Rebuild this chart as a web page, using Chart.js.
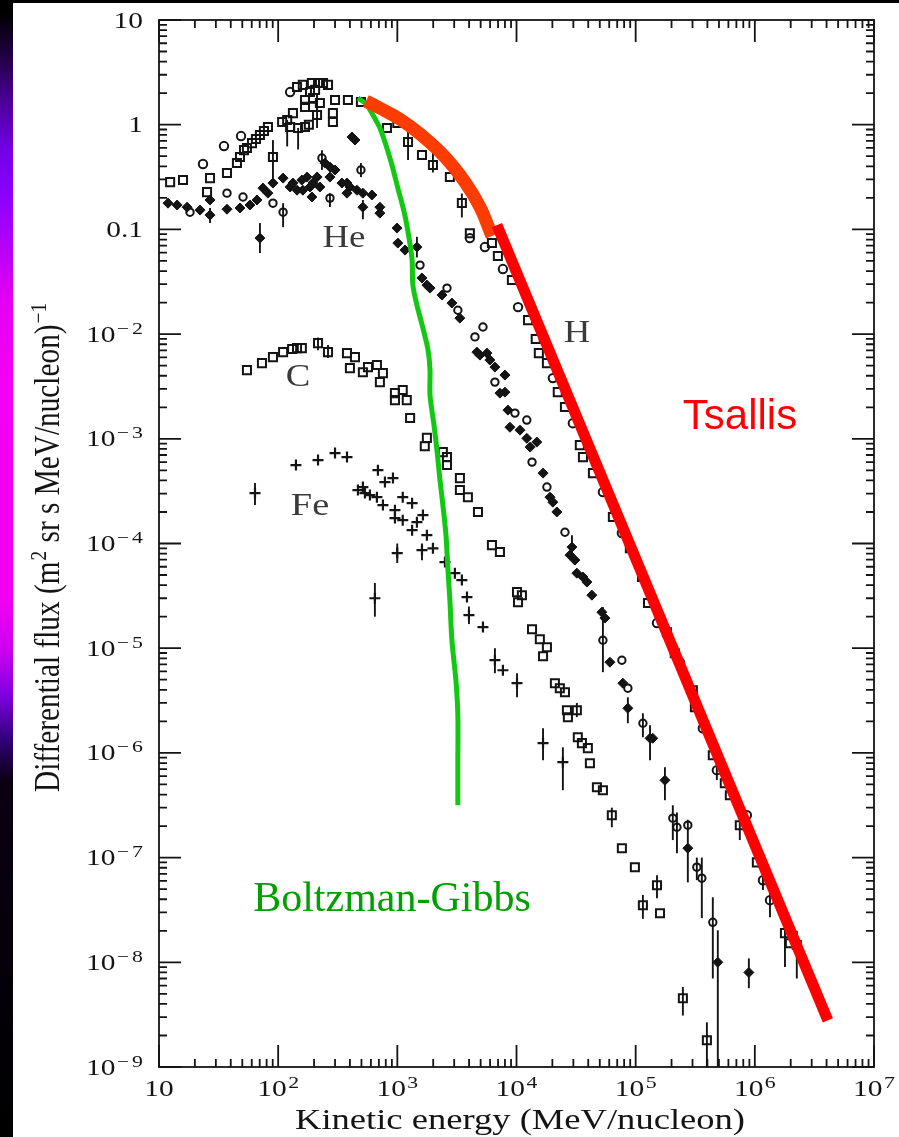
<!DOCTYPE html>
<html>
<head>
<meta charset="utf-8">
<script src="https://cdn.jsdelivr.net/npm/chart.js@4.4.0/dist/chart.umd.min.js"></script>
<style>
  html, body { margin: 0; padding: 0; background: #fff; overflow: hidden; scrollbar-width: none; }
  ::-webkit-scrollbar { display: none; width: 0; height: 0; }
  #wrap { position: relative; width: 899px; height: 1137px; overflow: hidden; background: #fff; }
  #edge { position: absolute; left: 0; top: 0; width: 13px; height: 1137px;
    background: linear-gradient(to bottom, #000 0px, #000 12px, #200040 55px, #4a0095 100px, #7400e6 150px,
      #8e00ff 200px, #b800f8 250px, #e400f2 300px, #f400f4 380px, #f200f2 600px, #cc00f0 650px,
      #8000e0 695px, #30007a 740px, #0a0012 780px, #000 1137px); }
  #topband { position: absolute; left: 0; top: 0; width: 899px; height: 3px; background: #000; }
  canvas { position: absolute; left: 0; top: 0; }
</style>
</head>
<body>
<div id="wrap">
  <div id="edge"></div>
  <div id="topband"></div>
  <canvas id="c" width="899" height="1137"></canvas>
</div>
<script>
// ---- Axis ticks -------------------------------------------------------
const xTickValues = [10, 1e2, 1e3, 1e4, 1e5, 1e6, 1e7];
const xTickLabels = [['10', ''], ['10', '2'], ['10', '3'], ['10', '4'], ['10', '5'], ['10', '6'], ['10', '7']];
const yTickValues = [10, 1, 0.1, 1e-2, 1e-3, 1e-4, 1e-5, 1e-6, 1e-7, 1e-8, 1e-9];
const yTickLabels = [['10', ''], ['1', ''], ['0.1', ''], ['10', '−2'], ['10', '−3'], ['10', '−4'],
  ['10', '−5'], ['10', '−6'], ['10', '−7'], ['10', '−8'], ['10', '−9']];
const minorSteps = [2, 3, 4, 5, 6, 7, 8, 9];

// ---- Measured spectra: [kinetic energy (MeV/nucleon), flux] -----------
const hSquares = [[12.4,0.283],[15.9,0.296],[25.3,0.227],[26.8,0.309],[37.2,0.345],[45.1,0.43],[47.8,0.491],
  [51.7,0.572],[54.7,0.598],[60.3,0.667],[65.1,0.729],[70.3,0.796],[76,0.869],[82.1,0.949],[90.4,0.491],
  [108,1.06],[119,1.11],[126,0.95],[133,1.29],[147,0.93],[168,0.95],[181,1.0],[144,2.29],[161,2.40],
  [192,2.50],[216,2.50],[238,2.50],[262,2.40],[168,1.72],[196,1.80],[224,1.61],[185,2.05],[204,2.15],
  [168,1.48],[196,1.48],[212,1.24],[288,1.29],[288,1.06],[300,1.72],[385,1.72],[495,1.65],[818,0.93],
  [1000,1.04],[1230,0.684],[1610,0.514],[1990,0.412],[2760,0.316],[3480,0.179],[4060,0.092],[6220,0.074],
  [6980,0.0556],[9150,0.0328],[1.25e4,0.0136],[1.45e4,0.00896],[1.54e4,0.00658],[1.8e4,0.00528],
  [2.22e4,0.00279],[2.55e4,0.00201],[3.4e4,8.7e-4],[3.61e4,6.68e-4],[4.38e4,4.7e-4],[6.44e4,1.79e-4],
  [8.94e4,9.0e-5],[1.13e5,4.78e-5],[1.27e5,2.7e-5],[1.83e5,1.42e-5],[2.13e5,8.96e-6],[3.02e5,3.97e-6],
  [3.14e5,2.73e-6],[4.44e5,9.5e-7],[5.6e5,5.14e-7],[6.17e5,3.94e-7],[7.48e5,2.04e-7],[1.04e6,9.0e-8],
  [1.79e6,1.9e-8],[1.97e6,1.52e-8],[2.25e6,1.46e-8]];
const hCircles = [[23.4,0.421],[35.1,0.625],[48.8,0.779],[126,2.05],[4060,0.0826],[5430,0.0678],[7690,0.0418],
  [1.03e4,0.0181],[2.02e4,0.0038],[2.97e4,0.00141],[5.31e4,3.1e-4],[7.66e4,1.26e-4],[1.51e5,1.74e-5],
  [2.35e5,7.35e-6],[3.66e5,1.72e-6],[4.8e5,6.84e-7],[8.57e5,2.54e-7],[1.17e6,6.08e-8],[1.34e6,3.92e-8]];
const hErrors = [[90.4,0.265,0.713],[119,0.62,1.11],[147,0.58,0.93],[212,0.93,1.5],[1230,0.46,1.0],
  [1990,0.35,0.55],[3480,0.13,0.22],[4.8e5,5.5e-7,8.5e-7],[7.48e5,1.47e-7,2.84e-7],[1.17e6,4.9e-8,9.5e-8],
  [1.34e6,2.7e-8,6e-8],[1.79e6,9e-9,2.3e-8],[2.25e6,7e-9,2.0e-8]];

const heFilled = [[11.9,0.178],[14.2,0.171],[17.2,0.163],[22.1,0.153],[26.8,0.137],[26.8,0.191],[37.2,0.156],
  [47.8,0.16],[58,0.171],[66.4,0.191],[74.5,0.248],[82.1,0.222],[70.3,0.0826],[90.4,0.277],[110,0.309],
  [126,0.254],[133,0.277],[144,0.237],[158,0.296],[161,0.237],[175,0.316],[185,0.254],[192,0.204],
  [196,0.277],[212,0.316],[224,0.254],[247,0.43],[272,0.394],[272,0.316],[300,0.369],[343,0.277],
  [378,0.277],[400,0.254],[378,0.222],[458,0.237],[514,0.222],[612,0.213],[514,0.163],[714,0.163],
  [714,0.143],[416,0.763],[441,0.714],
  [995,0.103],[1010,0.074],[1160,0.0634],[1460,0.0678],[1610,0.0343],[1770,0.0294],[1880,0.0275],
  [2370,0.0236],[2870,0.0198],[3350,0.0142],[4650,0.00673],[4930,0.0063],[5650,0.00658],[5980,0.00565],
  [6590,0.00484],[8000,0.00406],[7260,0.00273],[8000,0.00279],[8470,0.00188],[8810,0.00129],
  [1.07e4,0.00121],[1.22e4,0.00101],[1.48e4,9.3e-4],[1.3e4,8.33e-4],[1.67e4,4.7e-4],
  [1.91e4,2.77e-4],[2.02e4,2.48e-4],[2.18e4,2.0e-4],[2.92e4,9.24e-5],[2.81e4,7.75e-5],[3.09e4,6.94e-5],
  [3.21e4,5.21e-5],[3.61e4,4.78e-5],[3.9e4,4.28e-5],[4.29e4,3.21e-5],[5.2e4,2.21e-5],[5.52e4,1.94e-5],
  [6.08e4,7.35e-6],[7.81e4,4.63e-6],[8.6e4,2.67e-6],[1.32e5,1.38e-6],[1.39e5,1.38e-6],[1.76e5,5.48e-7],
  [2.74e5,1.23e-7],[4.89e5,1.0e-8],[8.91e5,8.0e-9]];
const heOpen = [[18.2,0.146],[37.2,0.222],[50.7,0.204],[90.4,0.178],[110,0.146],[233,0.48],[272,0.199],
  [495,0.369],[1550,0.0456],[2610,0.0275],[3220,0.0169],[5230,0.0117],[4480,0.0094],[6590,0.00348],
  [9700,0.00176],[1.22e4,0.00151],[1.35e4,5.99e-4],[1.8e4,3.46e-4],[2.55e4,1.28e-4],[5.31e4,1.19e-5],
  [7.66e4,7.68e-6],[8.6e4,4.15e-6],[1.15e5,1.92e-6],[2.05e5,2.38e-7],[2.22e5,1.95e-7],[2.74e5,2.04e-7],
  [3.26e5,8.1e-8],[3.59e5,6.36e-8],[4.44e5,2.41e-8]];
const heErrors = [[26.8,0.115,0.16],[70.3,0.0594,0.115],[110,0.105,0.178],[233,0.37,0.57],[272,0.164,0.222],
  [514,0.125,0.191],[495,0.316,0.43],[1460,0.054,0.085],[2.92e4,7.25e-5,1.2e-4],[5.31e4,5.9e-6,2.47e-5],
  [8.6e4,1.92e-6,3.4e-6],[1.15e5,1.41e-6,2.39e-6],[1.32e5,8.5e-7,1.84e-6],[1.76e5,3.53e-7,7.3e-7],
  [2.05e5,1.47e-7,3.16e-7],[2.22e5,1.1e-7,2.7e-7],[2.74e5,5.8e-8,2.3e-7],[3.26e5,6.1e-8,1.0e-7],
  [3.59e5,2.64e-8,1.0e-7],[4.44e5,7.0e-9,4.18e-8],[4.89e5,1.0e-9,2.02e-8],[8.91e5,5.65e-9,1.09e-8]];

const carbon = [[54.7,4.53e-3],[73.1,5.28e-3],[90.4,6.03e-3],[110,6.73e-3],[131,7.2e-3],[144,7.35e-3],
  [158,7.35e-3],[216,8.2e-3],[262,6.73e-3],[378,6.58e-3],[441,6.03e-3],[400,4.73e-3],[514,4.33e-3],
  [567,4.84e-3],[674,5.06e-3],[757,4.24e-3],[714,3.48e-3],[955,2.73e-3],[1110,2.92e-3],[955,2.34e-3],
  [1200,2.34e-3],[1280,1.58e-3],[1770,1.02e-3],[1700,8.5e-4],[2410,7.46e-4],[2610,6.68e-4],[2610,5.61e-4],
  [3350,4.21e-4],[3350,3.24e-4],[3910,2.77e-4],[4750,2.0e-4],[6220,9.65e-5],[7260,8.28e-5],[1.01e4,3.43e-5],
  [1.11e4,3.21e-5],[1.03e4,2.75e-5],[1.35e4,1.52e-5],[1.57e4,1.22e-5],[1.8e4,1.02e-5],[1.67e4,8.39e-6],
  [2.1e4,4.63e-6],[2.31e4,4.15e-6],[2.55e4,3.8e-6],[2.65e4,2.56e-6],[3.21e4,2.56e-6],[2.7e4,2.19e-6],
  [3.27e4,1.41e-6],[3.54e4,1.24e-6],[3.97e4,1.11e-6],[4.13e4,7.97e-7],[4.73e4,4.7e-7],[5.31e4,4.4e-7],
  [6.31e4,2.54e-7],[7.66e4,1.23e-7],[9.85e4,8.1e-8],[1.51e5,5.45e-8],[1.15e5,3.51e-8],[1.6e5,2.94e-8],
  [2.49e5,4.53e-9],[3.96e5,1.8e-9]];
const carbonErrors = [[216,7.0e-3,9.3e-3],[262,5.9e-3,7.85e-3],[3.21e4,2.2e-6,3.0e-6],[6.31e4,1.95e-7,3.0e-7],
  [1.51e5,4.1e-8,6.8e-8],[1.15e5,2.6e-8,4.4e-8],[2.49e5,3.1e-9,5.8e-9],[3.96e5,1.0e-9,2.67e-9]];

const iron = [[63.9,3.03e-4],[141,5.61e-4],[216,6.26e-4],[300,7.31e-4],[378,6.69e-4],[687,5.02e-4],
  [787,3.86e-4],[919,4.22e-4],[467,3.24e-4],[514,3.46e-4],[535,3.03e-4],[589,2.9e-4],[674,2.77e-4],
  [757,2.33e-4],[955,2.08e-4],[1110,2.77e-4],[1330,2.43e-4],[955,1.75e-4],[1110,1.67e-4],[1330,1.34e-4],
  [1460,1.6e-4],[1640,1.87e-4],[1770,1.2e-4],[998,8.1e-5],[1610,8.65e-5],[1990,9.0e-5],[2510,6.64e-5],
  [3040,5.21e-5],[3480,4.47e-5],[3840,3.08e-5],[3990,2.07e-5],[5230,1.59e-5],[6590,7.68e-6],[7690,6.16e-6],
  [1.01e4,4.63e-6],[648,3.0e-5],[1.67e4,1.24e-6],[2.45e4,8.15e-7]];
const ironErrors = [[63.9,2.33e-4,3.78e-4],[998,6.5e-5,1.0e-4],[1610,6.9e-5,1.0e-4],[3990,1.7e-5,2.5e-5],
  [6590,5.77e-6,1.0e-5],[1.01e4,3.4e-6,5.77e-6],[648,2.0e-5,4.2e-5],[1.67e4,8.5e-7,1.72e-6],
  [2.45e4,4.4e-7,1.13e-6]];

// ---- Fitted curves ------------------------------------------------------
const tsallisCurve = [[545,1.68],[714,1.44],[1050,1.13],[1550,0.815],[2510,0.491],[3690,0.284],[4930,0.164],[6220,0.0863]];
const tsallisPowerLaw = [[6850,0.110],[4.10e6,2.79e-9]];
const boltzmannGibbs = [[467,1.80],[545,1.58],[624,1.24],[714,0.93],[802,0.64],[901,0.412],[1010,0.248],
  [1140,0.147],[1250,0.0844],[1330,0.0509],[1350,0.0294],[1460,0.0189],[1640,0.0114],[1810,0.00703],
  [1880,0.00453],[1880,0.00261],[2030,0.00135],[2150,7.8e-4],[2280,4.03e-4],[2410,2.33e-4],[2560,1.2e-4],
  [2660,5.57e-5],[2760,2.88e-5],[2870,1.19e-5],[3100,4.95e-6],[3220,2.29e-6],[3220,8.5e-7],[3220,3.16e-7]];

const allErrors = [hErrors, heErrors, carbonErrors, ironErrors];

const toXY = arr => arr.map(([x, y]) => ({ x, y }));
const INK = '#141414';
const SERIF = '"Liberation Serif", "Times New Roman", serif';

function stretchedText(ctx, str, x, y, font, sx, align, color) {
  ctx.save();
  ctx.font = font;
  ctx.fillStyle = color || INK;
  const w = ctx.measureText(str).width * sx;
  const x0 = align === 'center' ? x - w / 2 : align === 'right' ? x - w : x;
  ctx.translate(x0, y);
  ctx.scale(sx, 1);
  ctx.textAlign = 'left';
  ctx.textBaseline = 'alphabetic';
  ctx.fillText(str, 0, 0);
  ctx.restore();
  return w;
}

// power-of-ten label: base text plus raised exponent
const LBL_SX = 1.28;
const LBL_BASE = '23px ' + SERIF;
const LBL_SUP = '17px ' + SERIF;
function supWidth(ctx, s) {
  if (!s) return 0;
  ctx.font = LBL_SUP;
  let w = 1.5;
  for (const ch of s) w += ctx.measureText(ch).width * LBL_SX + (ch === '−' ? 3 : 0);
  return w;
}
function powerLabel(ctx, parts, x, baseline, align) {
  const [b, s] = parts;
  ctx.font = LBL_BASE;
  const wb = ctx.measureText(b).width * LBL_SX;
  const ws = supWidth(ctx, s);
  const total = wb + ws;
  let x0 = align === 'center' ? x - total / 2 : align === 'right' ? x - total : x;
  stretchedText(ctx, b, x0, baseline, LBL_BASE, LBL_SX, 'left');
  let cx = x0 + wb + 1.5;
  for (const ch of s) {
    cx += stretchedText(ctx, ch, cx, baseline - 8, LBL_SUP, LBL_SX, 'left') + (ch === '−' ? 3 : 0);
  }
}

const framePlugin = {
  id: 'frame',
  beforeDatasetsDraw(chart) {
    const { ctx, chartArea: a, scales: { x, y } } = chart;
    ctx.save();
    ctx.beginPath();
    ctx.rect(a.left, a.top, a.right - a.left, a.bottom - a.top);
    ctx.clip();
    ctx.strokeStyle = INK;
    ctx.lineWidth = 1.9;
    for (const set of allErrors) {
      for (const [e, lo, hi] of set) {
        const px = x.getPixelForValue(e);
        ctx.beginPath();
        ctx.moveTo(px, y.getPixelForValue(lo));
        ctx.lineTo(px, y.getPixelForValue(hi));
        ctx.stroke();
      }
    }
    ctx.restore();
  },
  afterDraw(chart) {
    const { ctx, chartArea: a, scales: { x, y } } = chart;
    ctx.save();
    ctx.strokeStyle = INK;
    ctx.lineWidth = 1.8;
    ctx.strokeRect(a.left, a.top, a.right - a.left, a.bottom - a.top);
    const MAJOR = 22, MINOR = 8;
    ctx.beginPath();
    // energy axis ticks (bottom and top, pointing inward)
    xTickValues.forEach((dec, i) => {
      const px = x.getPixelForValue(dec);
      ctx.moveTo(px, a.bottom); ctx.lineTo(px, a.bottom - MAJOR);
      ctx.moveTo(px, a.top); ctx.lineTo(px, a.top + MAJOR);
      if (i < xTickValues.length - 1) {
        minorSteps.forEach(m => {
          const q = x.getPixelForValue(dec * m);
          ctx.moveTo(q, a.bottom); ctx.lineTo(q, a.bottom - MINOR);
          ctx.moveTo(q, a.top); ctx.lineTo(q, a.top + MINOR);
        });
      }
    });
    // flux axis ticks (left and right, pointing inward)
    yTickValues.forEach((dec, i) => {
      const py = y.getPixelForValue(dec);
      ctx.moveTo(a.left, py); ctx.lineTo(a.left + MAJOR, py);
      ctx.moveTo(a.right, py); ctx.lineTo(a.right - MAJOR, py);
      if (i > 0) {
        minorSteps.forEach(m => {
          const q = y.getPixelForValue(dec * m);
          ctx.moveTo(a.left, q); ctx.lineTo(a.left + MINOR, q);
          ctx.moveTo(a.right, q); ctx.lineTo(a.right - MINOR, q);
        });
      }
    });
    ctx.stroke();

    // tick labels
    xTickValues.forEach((v, i) => powerLabel(ctx, xTickLabels[i], x.getPixelForValue(v), a.bottom + 29, 'center'));
    yTickValues.forEach((v, i) => powerLabel(ctx, yTickLabels[i], a.left - 16, y.getPixelForValue(v) + 7.5, 'right'));

    // energy axis title
    const xTitle = 'Kinetic energy (MeV/nucleon)';
    ctx.font = '29px ' + SERIF;
    const xsx = 450 / ctx.measureText(xTitle).width;
    stretchedText(ctx, xTitle, 520, a.bottom + 62, '29px ' + SERIF, xsx, 'center');

    // flux axis title, rotated and reading upward
    const segs = [['Differential flux (m', false], ['2', true], [' sr s MeV/nucleon)', false], ['−1', true]];
    const widthOf = (t, sup) => { ctx.font = (sup ? '19px ' : '29px ') + SERIF; return ctx.measureText(t).width; };
    let natural = 0;
    segs.forEach(([t, s]) => { natural += widthOf(t, s) + (s ? 2 : 0); });
    const lenScale = 490 / natural;
    ctx.save();
    ctx.translate(59, 792);
    ctx.rotate(-Math.PI / 2);
    ctx.scale(lenScale, 1.22);
    ctx.fillStyle = INK;
    ctx.textBaseline = 'alphabetic';
    let cx = 0;
    segs.forEach(([t, s]) => {
      ctx.font = (s ? '19px ' : '29px ') + SERIF;
      if (s) cx += 1;
      ctx.fillText(t, cx, s ? -11 : 0);
      cx += ctx.measureText(t).width + (s ? 1 : 0);
    });
    ctx.restore();

    // species labels
    const spFont = '32px ' + SERIF;
    stretchedText(ctx, 'He', 344, 247, spFont, 1.15, 'center', '#3a3a3a');
    stretchedText(ctx, 'H', 577, 342, spFont, 1.15, 'center', '#3a3a3a');
    stretchedText(ctx, 'C', 298, 386, spFont, 1.15, 'center', '#3a3a3a');
    stretchedText(ctx, 'Fe', 310, 515, spFont, 1.2, 'center', '#3a3a3a');

    // model labels
    stretchedText(ctx, 'Tsallis', 740, 429, '42px "Liberation Sans", Arial, sans-serif', 1, 'center', '#ff0000');
    stretchedText(ctx, 'Boltzman-Gibbs', 392, 911, '42px ' + SERIF, 1, 'center', '#00a000');
    ctx.restore();
  }
};

const markerBase = { showLine: false, order: 1, borderColor: INK, pointHoverRadius: 0 };

new Chart(document.getElementById('c'), {
  type: 'scatter',
  data: {
    datasets: [
      { label: 'Tsallis', data: toXY(tsallisPowerLaw), showLine: true, order: 0, borderColor: '#ff0000',
        borderWidth: 11, pointRadius: 0, borderCapStyle: 'butt' },
      { label: 'Tsallis', data: toXY(tsallisCurve), showLine: true, order: 0, borderColor: '#ff3c00',
        borderWidth: 13, pointRadius: 0, tension: 0.4, borderCapStyle: 'butt', borderJoinStyle: 'round' },
      { label: 'Boltzman-Gibbs', data: toXY(boltzmannGibbs), showLine: true, order: 0, borderColor: '#12c812',
        borderWidth: 5, pointRadius: 0, tension: 0.3, borderCapStyle: 'butt', borderJoinStyle: 'round' },
      { ...markerBase, label: 'H', data: toXY(hSquares), pointStyle: 'rect', pointRadius: 5.7,
        pointBorderWidth: 2, backgroundColor: 'rgba(255,255,255,0)' },
      { ...markerBase, label: 'H', data: toXY(hCircles), pointStyle: 'circle', pointRadius: 4.2,
        pointBorderWidth: 2, backgroundColor: 'rgba(255,255,255,0)' },
      { ...markerBase, label: 'He', data: toXY(heFilled), pointStyle: 'rectRot', pointRadius: 5,
        pointBorderWidth: 1, backgroundColor: INK },
      { ...markerBase, label: 'He', data: toXY(heOpen), pointStyle: 'circle', pointRadius: 3.7,
        pointBorderWidth: 2, backgroundColor: 'rgba(255,255,255,0)' },
      { ...markerBase, label: 'C', data: toXY(carbon), pointStyle: 'rect', pointRadius: 5.7,
        pointBorderWidth: 2, backgroundColor: 'rgba(255,255,255,0)' },
      { ...markerBase, label: 'Fe', data: toXY(iron), pointStyle: 'cross', pointRadius: 5.5,
        pointBorderWidth: 2.2, backgroundColor: INK }
    ]
  },
  options: {
    responsive: false,
    animation: false,
    devicePixelRatio: 1,
    layout: { padding: { left: 159, right: 25, top: 20, bottom: 70 } },
    plugins: { legend: { display: false }, tooltip: { enabled: false } },
    events: [],
    scales: {
      x: { type: 'logarithmic', min: 10, max: 1e7, display: false },
      y: { type: 'logarithmic', min: 1e-9, max: 10, display: false }
    }
  },
  plugins: [framePlugin]
});
</script>
</body>
</html>
